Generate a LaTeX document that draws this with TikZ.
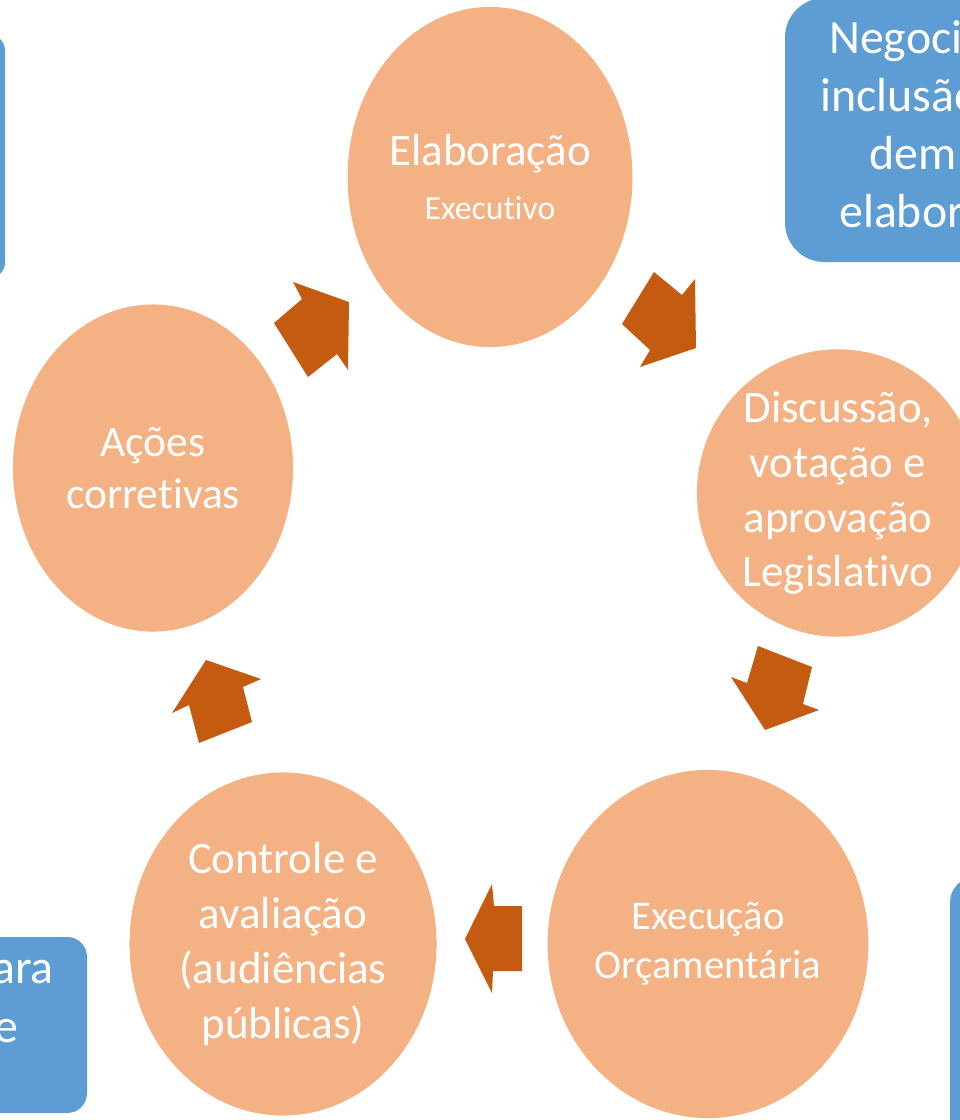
\documentclass[tikz,border=0pt]{standalone}
\usepackage{fontspec}
\setmainfont{Carlito}[Ligatures={TeX,NoCommon}]
\usetikzlibrary{shapes.geometric}
\definecolor{circulo}{RGB}{244,177,131}
\definecolor{seta}{RGB}{197,90,17}
\definecolor{caixa}{RGB}{94,157,211}
\tikzset{
	etapa/.style={ellipse,fill=circulo,text=white,align=center,inner sep=0pt,font=\fontsize{32}{39}\selectfont},
	flecha/.style={fill=seta},
	nota/.style={text=white,inner sep=0pt,font=\fontsize{34}{41}\selectfont},
}

\begin{document}
\begin{tikzpicture}[x=.025cm,y=-.025cm]
\useasboundingbox (0,0) rectangle (960,1120);
\clip (0,0) rectangle (960,1120);

% caixas azuis (cortadas pela borda)
\fill[caixa,rounded corners=11pt] (-200,35) rectangle (5,278);
\fill[caixa,rounded corners=28pt] (785,-2) rectangle (1200,262);
\fill[caixa,rounded corners=14pt] (-200,937) rectangle (87,1113);
\fill[caixa,rounded corners=18pt] (950,877) rectangle (1200,1300);
\node[nota,anchor=base west] (neg1) at (829,53) {Negoci};
\node[nota,anchor=base west] (neg2) at (820,111) {inclusão};
\node[nota,anchor=base west] (neg3) at (869,169) {dem};
\node[nota,anchor=base west] (neg4) at (839,227) {elabor};
\node[nota,anchor=base east] (par1) at (54,983) {ara};
\node[nota,anchor=base east] (par2) at (19,1042) {e};

% ciclo
\node[etapa,minimum width=7.05cm,minimum height=8.5cm] (elab) at (490,177)
	{Elaboração\\{\fontsize{24}{29}\selectfont Executivo}};
\node[etapa,minimum width=7.05cm,minimum height=6.95cm] (disc) at (838,493)
	{Discussão,\\votação e\\aprovação\\Legislativo};
\node[etapa,minimum width=8cm,minimum height=8.7cm,font=\fontsize{29}{35}\selectfont] (exec) at (708,944)
	{Execução\\Orçamentária};
\node[etapa,minimum width=7.675cm,minimum height=8.575cm] (ctrl) at (283,944)
	{Controle e\\avaliação\\(audiências\\públicas)};
\node[etapa,minimum width=7cm,minimum height=8.175cm,font=\fontsize{31}{37}\selectfont] (acoes) at (153,468)
	{Ações\\corretivas};

\fill[flecha] (654,272) -- (682,295) -- (695,279) -- (696,348) -- (640,367) -- (650,350) -- (622,324) -- cycle;
\fill[flecha] (758,646) -- (812,667) -- (803,704) -- (819,710) -- (765,730) -- (731,677) -- (747,683) -- cycle;
\fill[flecha] (465,939) -- (492,884) -- (494,906) -- (522,906) -- (522,971) -- (493,971) -- (492,993) -- cycle;
\fill[flecha] (206,660) -- (261,679) -- (243,687) -- (252,722) -- (199,743) -- (189,705) -- (172,713) -- cycle;
\fill[flecha] (293,282) -- (302,299) -- (274,323) -- (308,377) -- (337,354) -- (348,370) -- (349,302) -- cycle;
\end{tikzpicture}
\end{document}
